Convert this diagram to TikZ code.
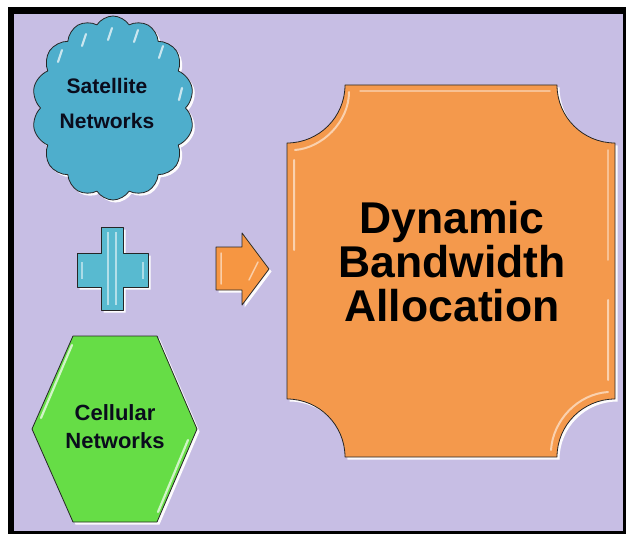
\documentclass[tikz,border=0pt]{standalone}
\usepackage{fontspec}
\setmainfont{Liberation Sans}
\usetikzlibrary{shapes.symbols,shadows}
\definecolor{lav}{RGB}{199,190,228}
\definecolor{cloudc}{RGB}{78,174,204}
\definecolor{plusc}{RGB}{88,186,208}
\definecolor{arrowc}{RGB}{246,150,66}
\definecolor{boxc}{RGB}{244,153,76}
\definecolor{hexc}{RGB}{102,221,70}
\definecolor{txtc}{RGB}{10,12,28}
\tikzset{
  glow/.style={drop shadow={fill=white,opacity=0.95,shadow xshift=2.5pt,shadow yshift=-2.5pt}},
  outl/.style={draw=black!85,line width=0.8pt,line join=round},
  shine/.style={draw=white,opacity=0.7,line width=2.2pt,line cap=round},
  smalllbl/.style={text=txtc,font=\bfseries\fontsize{21}{35}\selectfont,align=center,inner sep=0pt},
  biglbl/.style={text=black,font=\bfseries\fontsize{44.5}{44}\selectfont,align=center,inner sep=0pt}
}
\begin{document}
\begin{tikzpicture}[x=1pt,y=-1pt]
\useasboundingbox (0,0) rectangle (627,535);
\fill[white] (0,0) rectangle (627,535);
\fill[black] (8,7) rectangle (626,534);
\fill[lav] (14,14) rectangle (623,531);

% cloud
\node[cloud, cloud puffs=14, cloud puff arc=115, aspect=0.9, outl, fill=cloudc,
      minimum width=162pt, minimum height=184pt, inner sep=0pt, glow] (cloud) at (113,108) {};
\node[smalllbl] (sattxt) at (107,103) {Satellite\\Networks};
\foreach \a/\b in {{62,50}/{58,62},{86,34}/{82,46},{112,28}/{108,40},{138,30}/{134,42},{163,46}/{159,58},{182,88}/{179,100}}
  \draw[shine] (\a) -- (\b);

% plus
\path[outl, fill=plusc, glow]
  (101,227) coordinate (plustop) -- (123,227) -- (123,253) -- (148,253) -- (148,287) -- (123,287)
  -- (123,310) -- (101,310) -- (101,287) -- (77,287) -- (77,253) -- (101,253) -- cycle;
\draw[draw=white,opacity=0.55,line width=1.5pt] (108,232) -- (108,305) (116,232) -- (116,305);
\draw[draw=white,opacity=0.5,line width=1.5pt] (82,262) -- (82,279) (143,262) -- (143,279);

% arrow
\path[outl, fill=arrowc, glow]
  (216,247) coordinate (arrtail) -- (242,247) -- (242,233) -- (269,269) coordinate (arrtip)
  -- (242,305) -- (242,290) -- (216,290) -- cycle;
\draw[draw=white,opacity=0.55,line width=1.5pt,line cap=round] (221,253) -- (221,284) (258,262) -- (249,280);

% hexagon
\path[outl, fill=hexc, glow]
  (73,336) coordinate (hexa) -- (157,336) -- (197,429) -- (157,522) -- (73,522) -- (32,429) -- cycle;
\draw[shine] (72,345) -- (41,418);
\draw[shine] (188,440) -- (158,512);
\node[smalllbl, font=\bfseries\fontsize{22}{28}\selectfont] (celltxt) at (115,427) {Cellular\\Networks};

% orange box with concave corners
\path[outl, fill=boxc, glow]
  (345,85) coordinate (boxtl) -- (557,85)
  .. controls (557,117) and (583,143) .. (615,143)
  -- (615,399)
  .. controls (583,399) and (557,425) .. (557,457)
  -- (345,457)
  .. controls (345,425) and (319,399) .. (287,399)
  -- (287,143)
  .. controls (319,143) and (345,117) .. (345,85) -- cycle;
\draw[draw=white,opacity=0.55,line width=2pt,line cap=round]
  (349,92) .. controls (349,122) and (322,148) .. (295,150)
  (294,160) -- (294,250);
\draw[draw=white,opacity=0.55,line width=2pt,line cap=round]
  (608,392) .. controls (578,394) and (553,420) .. (551,450)
  (608,380) -- (608,300);
\draw[draw=white,opacity=0.4,line width=1.5pt,line cap=round]
  (360,91) -- (550,91) (608,150) -- (608,260);
\node[biglbl] (dbatxt) at (452,262) {Dynamic\\Bandwidth\\Allocation};
\end{tikzpicture}
\end{document}
